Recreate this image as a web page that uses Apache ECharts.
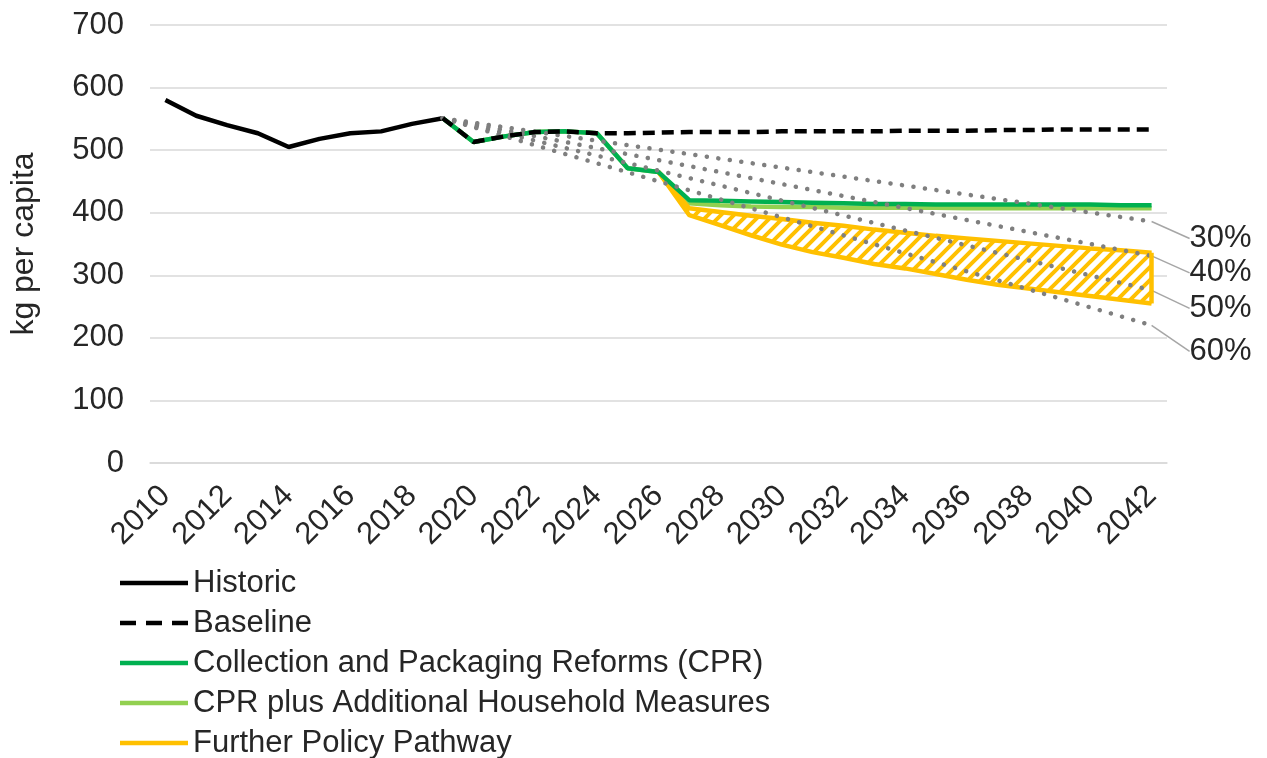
<!DOCTYPE html>
<html>
<head>
<meta charset="utf-8">
<script src="https://cdn.jsdelivr.net/npm/echarts@6/dist/echarts.min.js"></script>
<style>
html,body{margin:0;padding:0;background:#fff;}
#chart{width:1267px;height:758px;}
</style>
</head>
<body>
<div id="chart"></div>
<script>
const years = [];
for (let y = 2010; y <= 2042; y++) years.push(String(y));

const historic = [580, 555, 540, 527, 505, 518, 527, 530, 542, 551,
  null, null, null, null, null, null, null, null, null, null, null, null, null, null, null, null, null, null, null, null, null, null, null];

const baseline = [null, null, null, null, null, null, null, null, null, 551,
  513, 522, 529, 530, 527, 527, 528, 529, 529, 529, 530, 530, 530, 530, 531, 531, 531, 532, 532, 533, 533, 533, 533];

const cpr = [null, null, null, null, null, null, null, null, null, 551,
  513, 522, 529, 530, 527, 471, 465, 420, 419, 418, 417, 416, 415, 414, 414, 413, 413, 413, 413, 413, 413, 412, 412];

const cprPlus = [null, null, null, null, null, null, null, null, null, 551,
  513, 522, 529, 530, 527, 471, 465, 415, 412, 410, 409, 409, 408, 408, 408, 408, 407, 407, 407, 407, 407, 407, 407];

const fppUpper = [null, null, null, null, null, null, null, null, null, null,
  null, null, null, null, null, null, 465, 407, 401, 395, 390, 384, 379, 373, 368, 363, 359, 355, 351, 347, 343, 340, 336];

const fppLower = [null, null, null, null, null, null, null, null, null, null,
  null, null, null, null, null, null, 465, 396, 380, 364, 349, 337, 328, 318, 311, 302, 293, 285, 279, 273, 267, 261, 255];

// reduction targets: straight lines from the 2019 value to 2042
const target30 = [null, null, null, null, null, null, null, null, null, 551,
  null, null, null, null, null, null, null, null, null, null, null, null, null, null, null, null, null, null, null, null, null, null, 386];
const target40 = [null, null, null, null, null, null, null, null, null, 551,
  null, null, null, null, null, null, null, null, null, null, null, null, null, null, null, null, null, null, null, null, null, null, 331];
const target50 = [null, null, null, null, null, null, null, null, null, 551,
  null, null, null, null, null, null, null, null, null, null, null, null, null, null, null, null, null, null, null, null, null, null, 276];
const target60 = [null, null, null, null, null, null, null, null, null, 551,
  null, null, null, null, null, null, null, null, null, null, null, null, null, null, null, null, null, null, null, null, null, null, 220];

const targetLabels = ['30%', '40%', '50%', '60%'];
const yTicks = [0, 100, 200, 300, 400, 500, 600, 700];

const FONT = '"Liberation Sans", Arial, sans-serif';
const YELLOW = '#FFC000';
const FS = 31;

// hatch pattern
const T = 13;
const tile = document.createElement('canvas');
tile.width = T; tile.height = T;
const tctx = tile.getContext('2d');
tctx.fillStyle = '#ffffff';
tctx.fillRect(0, 0, T, T);
tctx.strokeStyle = YELLOW;
tctx.lineWidth = 4;
tctx.beginPath();
tctx.moveTo(-2, T + 2); tctx.lineTo(T + 2, -2);
tctx.moveTo(-3, 3); tctx.lineTo(3, -3);
tctx.moveTo(T - 3, T + 3); tctx.lineTo(T + 3, T - 3);
tctx.stroke();

const bandDiff = fppUpper.map((v, i) => (v == null || fppLower[i] == null) ? null : v - fppLower[i]);
const lastIdx = years.length - 1;

function targetSeries(name, arr, label, dy) {
  return {
    name: name,
    type: 'line',
    data: arr.map((v, i) => i === lastIdx ? {
      value: v,
      label: {
        show: true, formatter: label, position: 'right',
        fontSize: FS, color: '#262626', fontFamily: FONT
      }
    } : v),
    connectNulls: true,
    showSymbol: true,
    symbol: 'circle',
    symbolSize: 0.01,
    itemStyle: { color: '#7f7f7f' },
    lineStyle: { color: '#7f7f7f', width: 4.5, type: [0.1, 11.5], cap: 'round' },
    labelLayout: { dx: 33, dy: dy },
    labelLine: { show: true, lineStyle: { color: '#a6a6a6', width: 1.5 } },
    silent: true,
    z: 4
  };
}

const solidIcon = 'path://M0,0H68V4.5H0Z';
const dashIcon = 'path://M0,0H16V4.5H0Z M26,0H42V4.5H26Z M52,0H68V4.5H52Z';

const chart = echarts.init(document.getElementById('chart'));
chart.setOption({
  animation: false,
  backgroundColor: '#ffffff',
  grid: { left: 148, right: 100, top: 25, bottom: 295, containLabel: false },
  legend: {
    orient: 'vertical',
    left: 120,
    top: 566,
    height: 260,
    padding: 0,
    itemWidth: 68,
    itemHeight: 4.5,
    itemGap: 6,
    itemStyle: { opacity: 1, borderWidth: 0 },
    data: [
      { name: 'Historic', icon: solidIcon },
      { name: 'Baseline', icon: dashIcon },
      { name: 'Collection and Packaging Reforms (CPR)', icon: solidIcon },
      { name: 'CPR plus Additional Household Measures', icon: solidIcon },
      { name: 'Further Policy Pathway', icon: solidIcon }
    ],
    textStyle: { fontSize: FS, color: '#262626', fontFamily: FONT, lineHeight: 34 },
    selectedMode: false
  },
  xAxis: {
    type: 'category',
    data: years,
    boundaryGap: true,
    axisLine: { lineStyle: { color: '#d9d9d9', width: 1.5 } },
    axisTick: { show: false },
    axisLabel: { interval: 1, rotate: 45, fontSize: FS, color: '#262626', fontFamily: FONT, margin: 28 }
  },
  yAxis: {
    type: 'value',
    min: 0, max: 700, interval: 100,
    name: 'kg per capita',
    nameLocation: 'middle',
    nameRotate: 90,
    nameGap: 110,
    nameTextStyle: { fontSize: 32, color: '#262626', fontFamily: FONT },
    axisLine: { show: false },
    axisTick: { show: false },
    splitLine: { lineStyle: { color: '#d9d9d9', width: 1.5 } },
    axisLabel: {
      fontSize: FS, color: '#262626', fontFamily: FONT, margin: 26,
      formatter: v => yTicks.indexOf(v) >= 0 ? String(v) : ''
    }
  },
  series: [
    {
      name: 'Historic', type: 'line', data: historic, symbol: 'none',
      lineStyle: { color: '#000000', width: 4.5 }, itemStyle: { color: '#000000' }, z: 3
    },
    {
      name: 'CPR plus Additional Household Measures', type: 'line', data: cprPlus, symbol: 'none',
      lineStyle: { color: '#92D050', width: 4.5 }, itemStyle: { color: '#92D050' }, z: 2
    },
    {
      name: 'fppLower', type: 'line', data: fppLower, stack: 'fpp', symbol: 'none',
      lineStyle: { color: YELLOW, width: 4.5 }, itemStyle: { color: YELLOW }, z: 2
    },
    {
      name: 'Further Policy Pathway', type: 'line', data: bandDiff, stack: 'fpp', symbol: 'none',
      lineStyle: { color: YELLOW, width: 4.5 }, itemStyle: { color: YELLOW },
      areaStyle: { color: { image: tile, repeat: 'repeat' }, opacity: 1 },
      markLine: {
        silent: true, symbol: ['none', 'none'], label: { show: false },
        lineStyle: { color: YELLOW, width: 4.5, type: 'solid' },
        data: [[{ coord: [years[lastIdx], fppLower[lastIdx]] }, { coord: [years[lastIdx], fppUpper[lastIdx]] }]]
      },
      z: 2
    },
    {
      name: 'Collection and Packaging Reforms (CPR)', type: 'line', data: cpr, symbol: 'none',
      lineStyle: { color: '#00B050', width: 4.5 }, itemStyle: { color: '#00B050' }, z: 3
    },
    targetSeries('t30', target30, targetLabels[0], 17),
    targetSeries('t40', target40, targetLabels[1], 17),
    targetSeries('t50', target50, targetLabels[2], 18),
    targetSeries('t60', target60, targetLabels[3], 26),
    {
      name: 'Baseline', type: 'line', data: baseline, symbol: 'none',
      lineStyle: { color: '#000000', width: 4.5, type: [12, 7] }, itemStyle: { color: '#000000' }, z: 5
    }
  ]
});
</script>
</body>
</html>
